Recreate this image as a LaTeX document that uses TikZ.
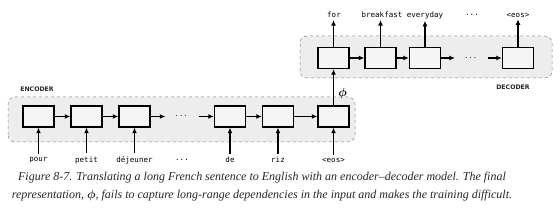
\documentclass[tikz,border=0pt]{standalone}
\usepackage{amsmath, amssymb}
\usepackage{fontspec}
\setmainfont{Liberation Serif}
\setsansfont{DejaVu Sans}
\setmonofont{DejaVu Sans Mono}
\usepackage{tikz}
\usetikzlibrary{arrows.meta}

\tikzset{
  cell/.style={draw, line width=1.4pt, fill=white!96!black, minimum width=31pt, minimum height=21pt, inner sep=0pt},
  region/.style={draw=black!50, dashed, fill=black!7, rounded corners=7pt, line width=0.5pt},
  word/.style={font=\ttfamily\fontsize{7.5}{9}\selectfont, inner sep=1pt},
  tag/.style={font=\sffamily\bfseries\fontsize{6.2}{7}\selectfont, text=black!85},
  dotsnode/.style={minimum width=33pt, inner sep=0pt},
  link/.style={-{Latex[length=5.5pt,width=5pt]}, line width=1.2pt},
  capline/.style={font=\itshape\fontsize{12}{14}\selectfont, text=black!85, inner sep=0pt}
}

\begin{document}
\begin{tikzpicture}[x=1pt, y=1pt]
        \useasboundingbox (0, 0) rectangle (560, 208);

        % Encoder and decoder backgrounds
        \draw[region] (8, 66) rectangle (355, 111);
        \draw[region] (300, 130) rectangle (552, 172);
        \node[tag] (enctag) at (37, 119) {ENCODER};
        \node[tag] (dectag) at (513, 121) {DECODER};

        % Encoder cells
        \node[cell] (e1) at (38.5, 91.5) {};
        \node[cell] (e2) at (86.5, 91.5) {};
        \node[cell] (e3) at (134.5, 91.5) {};
        \node[dotsnode] (edots) at (182, 91.5) {$\cdots$};
        \node[cell] (e4) at (230, 91.5) {};
        \node[cell] (e5) at (278, 91.5) {};
        \node[cell] (e6) at (333.5, 91.5) {};

        % Decoder cells
        \node[cell] (d1) at (333.5, 150) {};
        \node[cell] (d2) at (380.5, 150) {};
        \node[cell] (d3) at (425, 150) {};
        \node[dotsnode] (ddots) at (471.5, 150) {$\cdots$};
        \node[cell] (d4) at (518, 150) {};

        % Input words
        \node[word] (pour) at (38.5, 48) {pour};
        \node[word] (petit) at (86.5, 48) {petit};
        \node[word] (dej) at (134.5, 48) {déjeuner};
        \node[word] (indots) at (182, 48) {...};
        \node[word] (de) at (230, 48) {de};
        \node[word] (riz) at (278, 48) {riz};
        \node[word] (ineos) at (333.5, 48) {<eos>};

        % Output words
        \node[word] (for) at (334, 193) {for};
        \node[word] (breakfast) at (382, 193) {breakfast};
        \node[word] (everyday) at (425, 193) {everyday};
        \node[word] (outdots) at (472, 193) {...};
        \node[word] (outeos) at (518, 193) {<eos>};

        % Recurrent links
        \draw[link] (e1) -- (e2);
        \draw[link] (e2) -- (e3);
        \draw[link] (e3) -- (edots);
        \draw[link] (edots) -- (e4);
        \draw[link] (e4) -- (e5);
        \draw[link] (e5) -- (e6);
        \draw[link] (d1) -- (d2);
        \draw[link] (d2) -- (d3);
        \draw[link] (d3) -- (ddots);
        \draw[link] (ddots) -- (d4);

        % Inputs and outputs
        \foreach \w/\c in {pour/e1, petit/e2, dej/e3, de/e4, riz/e5, ineos/e6}
            \draw[link] (\w.north) ++(0, 2) -- (\c.south);
        \foreach \c/\w in {d1/for, d2/breakfast, d3/everyday, d4/outeos}
            \draw[link] (\c.north) -- ([yshift=-1pt]\w.south -| \c.north);

        % Final representation
        \draw[link] (e6) -- (d1) node[pos=0.32, right=1pt, font=\large] (phi) {$\boldsymbol{\phi}$};

        % Caption
        \node[capline] (cap1) at (262, 30)
            {Figure 8-7. Translating a long French sentence to English with an encoder--decoder model. The final};
        \node[capline] (cap2) at (262, 12)
            {representation, $\boldsymbol{\phi}$, fails to capture long-range dependencies in the input and makes the training difficult.};
\end{tikzpicture}
\end{document}
